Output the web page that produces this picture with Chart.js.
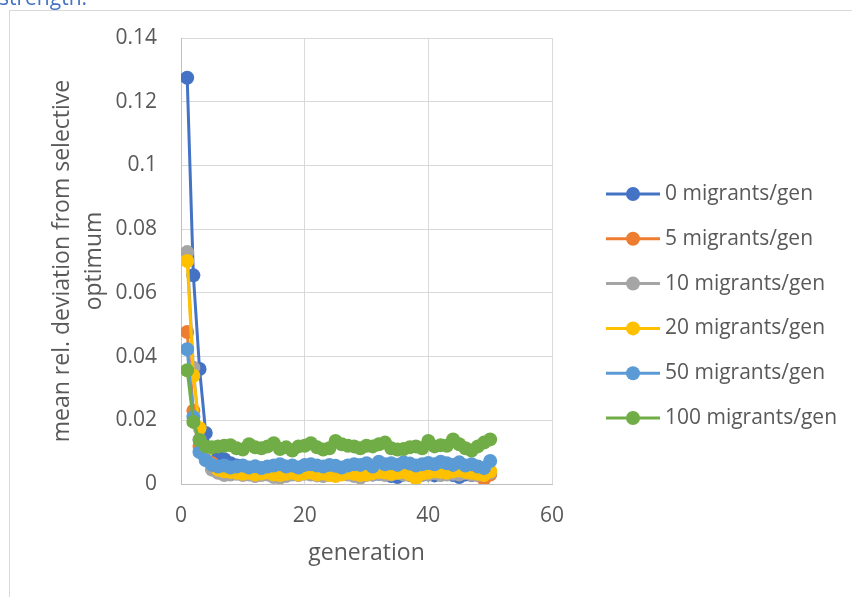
<!DOCTYPE html>
<html>
<head>
<meta charset="utf-8">
<script src="https://cdn.jsdelivr.net/npm/chart.js@4.4.0/dist/chart.umd.min.js"></script>
<style>
  body { margin: 0; background: #fff; }
  #wrap { width: 852px; height: 597px; position: relative; }
</style>
</head>
<body>
<div id="wrap"><canvas id="chart" width="852" height="597"></canvas></div>
<script>
// generations 1..50
const generations = [];
for (let g = 1; g <= 50; g++) generations.push(g);

const seriesNames = ['0 migrants/gen', '5 migrants/gen', '10 migrants/gen', '20 migrants/gen', '50 migrants/gen', '100 migrants/gen'];
const seriesColors = ['#4472C4', '#ED7D31', '#A5A5A5', '#FFC000', '#5B9BD5', '#70AD47'];

const mig0 = [0.1275, 0.0655, 0.0361, 0.0160, 0.0095, 0.0085, 0.0078, 0.0065, 0.0058, 0.0052,
  0.0048, 0.0045, 0.0043, 0.0042, 0.0040, 0.0038, 0.0040, 0.0036, 0.0038, 0.0035,
  0.0036, 0.0034, 0.0035, 0.0033, 0.0035, 0.0032, 0.0034, 0.0033, 0.0031, 0.0033,
  0.0030, 0.0032, 0.0031, 0.0025, 0.0022, 0.0030, 0.0028, 0.0031, 0.0029, 0.0030,
  0.0027, 0.0030, 0.0032, 0.0028, 0.0022, 0.0030, 0.0028, 0.0030, 0.0029, 0.0032];
const mig5 = [0.0477, 0.0230, 0.0118, 0.0080, 0.0065, 0.0050, 0.0045, 0.0040, 0.0042, 0.0038,
  0.0040, 0.0035, 0.0038, 0.0040, 0.0035, 0.0038, 0.0036, 0.0040, 0.0030, 0.0038,
  0.0040, 0.0036, 0.0038, 0.0035, 0.0040, 0.0038, 0.0035, 0.0040, 0.0038, 0.0036,
  0.0040, 0.0038, 0.0035, 0.0038, 0.0040, 0.0036, 0.0030, 0.0038, 0.0040, 0.0042,
  0.0035, 0.0038, 0.0040, 0.0036, 0.0038, 0.0035, 0.0030, 0.0028, 0.0015, 0.0030];
const mig10 = [0.0728, 0.0365, 0.0140, 0.0075, 0.0045, 0.0035, 0.0028, 0.0030, 0.0032, 0.0028,
  0.0030, 0.0025, 0.0028, 0.0030, 0.0022, 0.0020, 0.0025, 0.0030, 0.0028, 0.0032,
  0.0030, 0.0027, 0.0025, 0.0030, 0.0028, 0.0032, 0.0030, 0.0025, 0.0020, 0.0028,
  0.0030, 0.0032, 0.0028, 0.0030, 0.0035, 0.0030, 0.0040, 0.0038, 0.0032, 0.0030,
  0.0035, 0.0028, 0.0030, 0.0032, 0.0030, 0.0035, 0.0030, 0.0028, 0.0032, 0.0035];
const mig20 = [0.0700, 0.0340, 0.0175, 0.0100, 0.0060, 0.0045, 0.0040, 0.0038, 0.0035, 0.0032,
  0.0035, 0.0030, 0.0033, 0.0036, 0.0030, 0.0028, 0.0032, 0.0035, 0.0030, 0.0034,
  0.0036, 0.0030, 0.0033, 0.0028, 0.0025, 0.0030, 0.0035, 0.0032, 0.0028, 0.0030,
  0.0034, 0.0038, 0.0036, 0.0032, 0.0035, 0.0038, 0.0030, 0.0018, 0.0032, 0.0036,
  0.0040, 0.0038, 0.0035, 0.0040, 0.0042, 0.0038, 0.0035, 0.0032, 0.0028, 0.0040];
const mig50 = [0.0423, 0.0210, 0.0100, 0.0075, 0.0060, 0.0055, 0.0058, 0.0052, 0.0055, 0.0058,
  0.0052, 0.0056, 0.0050, 0.0055, 0.0058, 0.0062, 0.0055, 0.0058, 0.0052, 0.0060,
  0.0062, 0.0058, 0.0055, 0.0060, 0.0057, 0.0052, 0.0058, 0.0062, 0.0060, 0.0065,
  0.0055, 0.0070, 0.0062, 0.0065, 0.0060, 0.0068, 0.0064, 0.0058, 0.0062, 0.0066,
  0.0062, 0.0070, 0.0065, 0.0060, 0.0068, 0.0058, 0.0062, 0.0055, 0.0050, 0.0072];
const mig100 = [0.0357, 0.0195, 0.0138, 0.0118, 0.0115, 0.0118, 0.0120, 0.0122, 0.0112, 0.0108,
  0.0125, 0.0115, 0.0112, 0.0118, 0.0128, 0.0110, 0.0115, 0.0105, 0.0118, 0.0120,
  0.0128, 0.0115, 0.0108, 0.0112, 0.0135, 0.0125, 0.0120, 0.0118, 0.0112, 0.0120,
  0.0118, 0.0125, 0.0130, 0.0112, 0.0108, 0.0110, 0.0115, 0.0118, 0.0112, 0.0135,
  0.0118, 0.0122, 0.0120, 0.0140, 0.0125, 0.0112, 0.0105, 0.0118, 0.0130, 0.0140];

const seriesValues = [mig0, mig5, mig10, mig20, mig50, mig100];

const textColor = '#595959';
const fontFamily = '"Open Sans", "Noto Sans", sans-serif';

const datasets = seriesValues.map((vals, i) => ({
  label: seriesNames[i],
  data: vals.map((v, k) => ({ x: generations[k], y: v })),
  showLine: true,
  borderColor: seriesColors[i],
  backgroundColor: seriesColors[i],
  borderWidth: 3,
  pointRadius: 7,
  pointBorderWidth: 0,
  pointBackgroundColor: seriesColors[i],
  order: seriesValues.length - i // later series drawn on top, like Excel
}));

// frame and the cut-off caption above the chart
const framePlugin = {
  id: 'frame',
  beforeDraw(chart) {
    const c = chart.ctx;
    c.save();
    c.strokeStyle = '#d9d9d9';
    c.lineWidth = 1;
    c.strokeRect(9.5, 10.5, 900, 700);
    c.fillStyle = '#4472C4';
    c.font = '21px ' + fontFamily;
    c.textBaseline = 'alphabetic';
    c.fillText('strength.', -1, 5);
    c.restore();
  }
};

// legend with line + marker, Excel style
const legendPlugin = {
  id: 'xlLegend',
  afterDraw(chart) {
    const c = chart.ctx;
    c.save();
    c.font = '21px ' + fontFamily;
    c.textBaseline = 'middle';
    chart.data.datasets.forEach((ds, i) => {
      const y = 194 + i * 44.8;
      c.strokeStyle = ds.borderColor;
      c.lineWidth = 3;
      c.beginPath();
      c.moveTo(606, y);
      c.lineTo(660, y);
      c.stroke();
      c.fillStyle = ds.borderColor;
      c.beginPath();
      c.arc(633, y, 7, 0, Math.PI * 2);
      c.fill();
      c.fillStyle = textColor;
      c.fillText(ds.label, 665, y);
    });
    c.restore();
  }
};

new Chart(document.getElementById('chart'), {
  type: 'scatter',
  data: { datasets: datasets },
  plugins: [framePlugin, legendPlugin],
  options: {
    responsive: false,
    animation: false,
    layout: { padding: { left: 0, top: 38, right: 300, bottom: 0 } },
    plugins: {
      legend: { display: false },
      tooltip: { enabled: false }
    },
    scales: {
      x: {
        type: 'linear',
        min: 0,
        max: 60,
        ticks: { stepSize: 20, padding: 19, color: textColor, font: { family: fontFamily, size: 21 } },
        grid: { color: '#d9d9d9', drawTicks: false },
        border: { color: '#bfbfbf' },
        title: {
          display: true,
          text: 'generation',
          color: textColor,
          font: { family: fontFamily, size: 23 },
          padding: { top: 0, bottom: 30 }
        },
        afterFit(scale) {
          scale.height = 113;
          scale.paddingLeft = 0;
          scale.paddingRight = 0;
        }
      },
      y: {
        min: 0,
        max: 0.14,
        ticks: {
          stepSize: 0.02,
          padding: 24,
          color: textColor,
          font: { family: fontFamily, size: 21 },
          callback: v => String(Number(v.toFixed(2)))
        },
        grid: { color: '#d9d9d9', drawTicks: false },
        border: { color: '#bfbfbf' },
        title: {
          display: true,
          text: ['mean rel. deviation from selective', 'optimum'],
          color: textColor,
          font: { family: fontFamily, size: 23, lineHeight: 1.4 },
          padding: { top: 46, bottom: 0 }
        },
        afterFit(scale) {
          scale.width = 181;
          scale.paddingTop = 0;
          scale.paddingBottom = 0;
        }
      }
    }
  }
});
</script>
</body>
</html>
